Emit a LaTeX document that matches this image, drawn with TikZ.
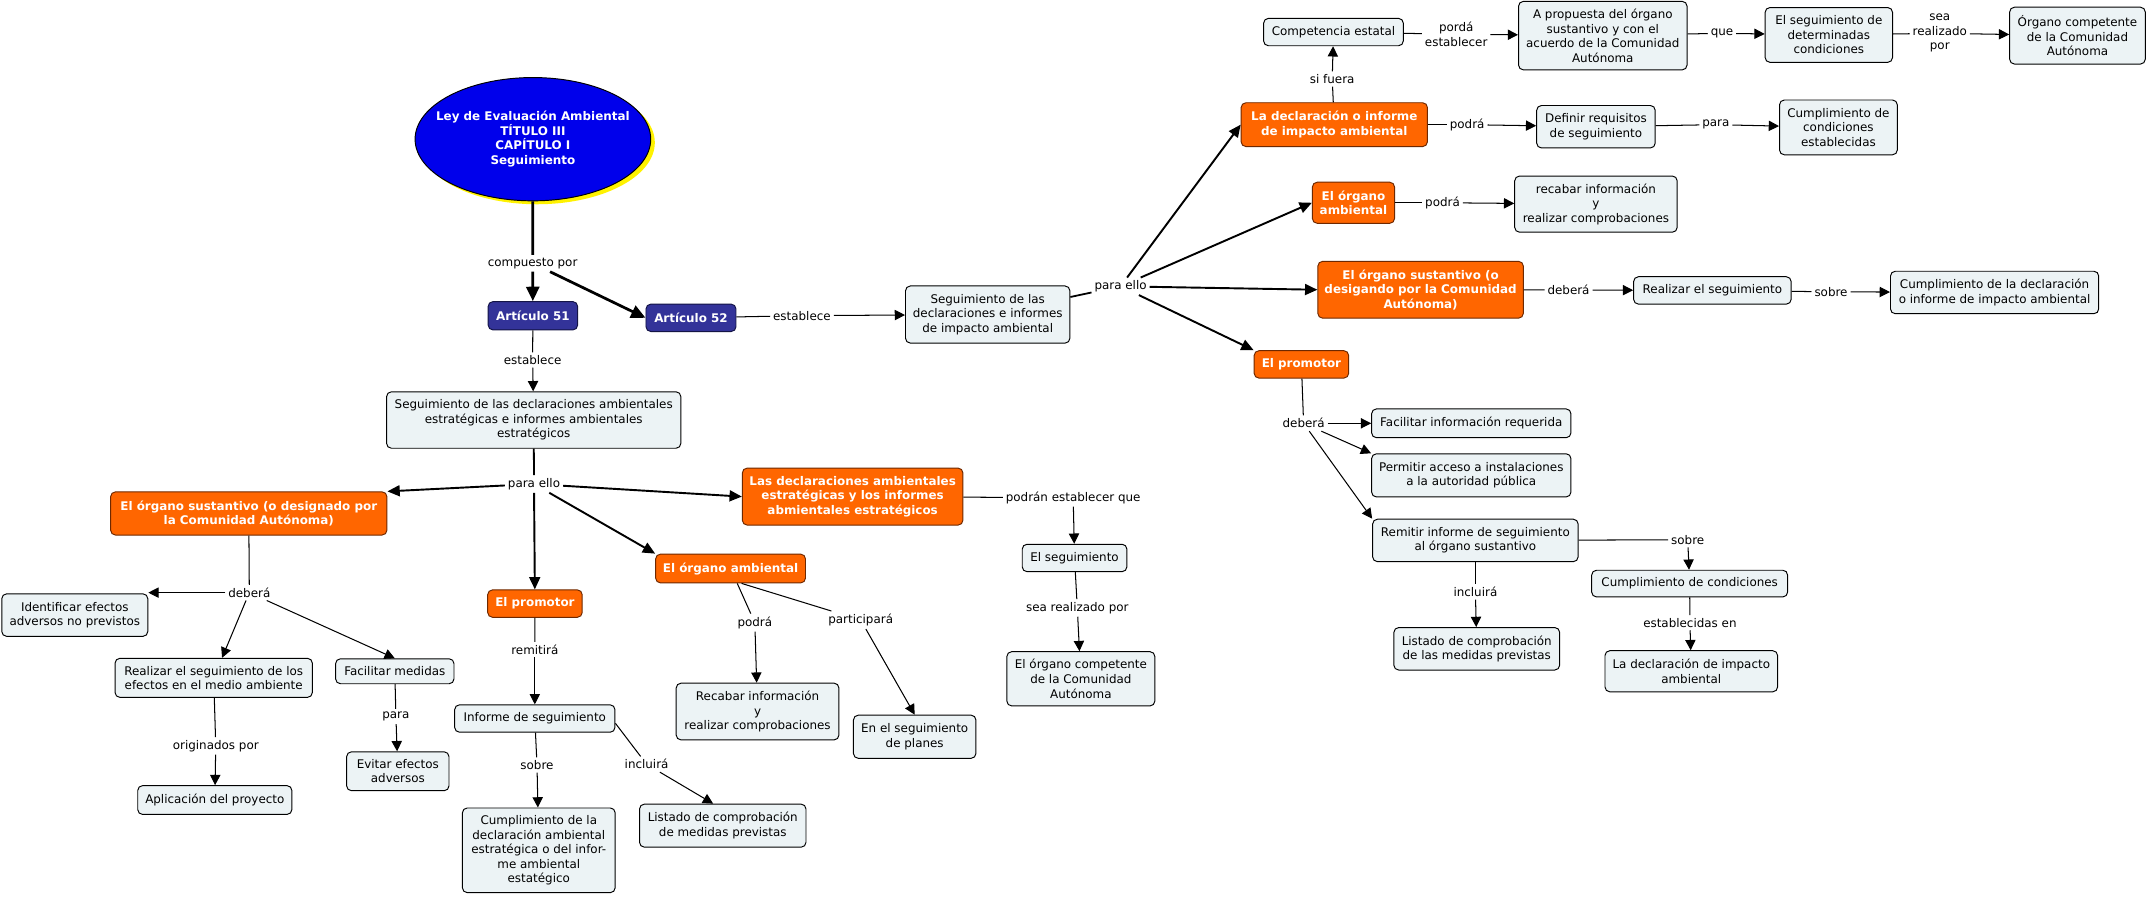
\documentclass[tikz,border=0pt]{standalone}
\usepackage{fontspec}
\setmainfont{DejaVu Sans}
\usetikzlibrary{arrows.meta,shapes.geometric,shadows}
\definecolor{boxfill}{RGB}{236,243,245}
\definecolor{orfill}{RGB}{255,102,0}
\definecolor{ordraw}{RGB}{110,40,0}
\definecolor{navyfill}{RGB}{51,51,153}
\definecolor{navydraw}{RGB}{20,20,70}
\definecolor{ellfill}{RGB}{0,0,235}
\tikzset{
  every node/.style={font=\fontsize{8.7}{10.6}\selectfont},
  sz/.style 2 args={minimum width=#1pt,minimum height=#2pt},
  lbox/.style={draw=black,fill=boxfill,rounded corners=3.5pt,align=center,inner sep=1pt,line width=0.7pt},
  obox/.style={lbox,fill=orfill,draw=ordraw,text=white,font=\fontsize{8.7}{10.6}\selectfont\bfseries},
  nbox/.style={lbox,fill=navyfill,draw=navydraw,text=white,font=\fontsize{8.7}{10.6}\selectfont\bfseries},
  lab/.style={fill=white,inner sep=2pt,align=center},
  tl/.style={line width=0.75pt},
  ta/.style={line width=0.75pt,-{Triangle[length=7.5pt,width=7.5pt]}},
  ml/.style={line width=1.3pt},
  ma/.style={line width=1.4pt,-{Triangle[length=9pt,width=8pt]}},
  hl/.style={line width=2pt},
  ha/.style={line width=2pt,-{Triangle[length=10.5pt,width=9.5pt]}},
}
\begin{document}
\begin{tikzpicture}[x=1pt,y=-1pt]
\useasboundingbox[fill=white] (0,0) rectangle (1568,654.07);
% title
\node[ellipse,draw=black,line width=0.7pt,fill=ellfill,inner sep=0pt,
  minimum width=172pt,minimum height=90pt,
  drop shadow={fill=yellow,opacity=1,shadow xshift=3pt,shadow yshift=-2.5pt}]
  (ell) at (389,101.6) {};
\node[text=white,align=center,inner sep=0pt,font=\fontsize{8.7}{10.6}\selectfont\bfseries]
  (ellt) at (ell.center) {Ley de Evaluación Ambiental\\TÍTULO III\\CAPÍTULO I\\Seguimiento};
\node[lab] (comp) at (388.8,192.2) {compuesto por};
\node[nbox,sz={65.3}{20.7}] (a51) at (389,230.5) {Artículo 51};
\node[nbox,sz={65.7}{20}] (a52) at (504.4,232) {Artículo 52};
% left branch
\node[lab] (est1) at (388.8,262.8) {establece};
\node[lbox,sz={214.8}{41.2}] (seg1) at (389.6,306.6) {Seguimiento de las declaraciones ambientales\\estratégicas e informes ambientales\\estratégicos};
\node[lab] (pe1) at (389.8,353.3) {para ello};
\node[obox,sz={201.7}{31.5}] (sust1) at (181.6,374.8) {El órgano sustantivo (o designado por\\la Comunidad Autónoma)};
\node[obox,sz={161}{41.6}] (decl1) at (622.4,362.5) {Las declaraciones ambientales\\estratégicas y los informes\\abmientales estratégicos};
\node[obox,sz={69}{20}] (prom1) at (390.5,440.6) {El promotor};
\node[obox,sz={109.4}{21}] (oamb1) at (533.3,415) {El órgano ambiental};
\node[lab] (deb1) at (182,432.6) {deberá};
\node[lbox,sz={106.6}{31}] (ident) at (54.6,449) {Identificar efectos\\adversos no previstos};
\node[lbox,sz={144}{28.5}] (realiz1) at (156,494.8) {Realizar el seguimiento de los\\efectos en el medio ambiente};
\node[lbox,sz={86.4}{18.2}] (facil) at (288.2,490) {Facilitar medidas};
\node[lab] (orig1) at (157.5,544.5) {originados por};
\node[lbox,sz={112.5}{21}] (aplic) at (156.8,584) {Aplicación del proyecto};
\node[lab] (para1) at (289,523) {para};
\node[lbox,sz={74.7}{28.4}] (evitar) at (290.4,563) {Evitar efectos\\adversos};
\node[lab] (rem1) at (390.4,474.2) {remitirá};
\node[lbox,sz={117}{20}] (inf1) at (390.4,524.5) {Informe de seguimiento};
\node[lab] (sob1) at (392,558.4) {sobre};
\node[lbox,sz={111.5}{61.8}] (cump1) at (393.3,620.7) {Cumplimiento de la\\declaración ambiental\\estratégica o del infor-\\me ambiental\\estatégico};
\node[lab] (inc1) at (472,557.9) {incluirá};
\node[lbox,sz={121.5}{31.4}] (list1) at (527.6,602.7) {Listado de comprobación\\de medidas previstas};
\node[lab] (pod1) at (551,454.5) {podrá};
\node[lbox,sz={118.8}{41.4}] (recab1) at (553,519.4) {Recabar información\\y\\realizar comprobaciones};
\node[lab] (part1) at (628.3,452.6) {participará};
\node[lbox,sz={89.4}{31.5}] (planes) at (667.7,537.8) {En el seguimiento\\de planes};
\node[lab] (pet1) at (783.4,363.3) {podrán establecer que};
\node[lbox,sz={76.4}{20}] (seg3) at (784.4,407.3) {El seguimiento};
\node[lab] (srp1) at (786.4,443.8) {sea realizado por};
\node[lbox,sz={108}{39.6}] (ocomp1) at (789,495.5) {El órgano competente\\de la Comunidad\\Autónoma};
% right branch
\node[lab] (est2) at (585.4,230.4) {establece};
\node[lbox,sz={120}{41.7}] (seg2) at (721,229.6) {Seguimiento de las\\declaraciones e informes\\de impacto ambiental};
\node[lab] (pe2) at (818,209) {para ello};
\node[obox,sz={136}{32}] (decl2) at (974,91) {La declaración o informe\\de impacto ambiental};
\node[obox,sz={60}{30}] (oamb2) at (988,148) {El órgano\\ambiental};
\node[obox,sz={150}{41.5}] (sust2) at (1037,211.5) {El órgano sustantivo (o\\desigando por la Comunidad\\Autónoma)};
\node[obox,sz={69}{20}] (prom2) at (950,266) {El promotor};
\node[lab] (sif) at (972.5,57.7) {si fuera};
\node[lbox,sz={102}{20}] (comp2) at (973.4,23.4) {Competencia estatal};
\node[lab] (porda) at (1063,25) {pordá\\establecer};
\node[lbox,sz={123}{50}] (aprop) at (1170,26) {A propuesta del órgano\\sustantivo y con el\\acuerdo de la Comunidad\\Autónoma};
\node[lab] (que) at (1257,24.3) {que};
\node[lbox,sz={93}{40}] (seguim) at (1335,25.5) {El seguimiento de\\determinadas\\condiciones};
\node[lab] (sea) at (1416,24.3) {sea\\realizado\\por};
\node[lbox,sz={99}{41.5}] (organo) at (1516.5,26) {Órgano competente\\de la Comunidad\\Autónoma};
\node[lab] (pod2) at (1071,91) {podrá};
\node[lbox,sz={86.5}{31}] (defin) at (1165,92.5) {Definir requisitos\\de seguimiento};
\node[lab] (para2) at (1252.5,91) {para};
\node[lbox,sz={86}{40}] (cumpcond) at (1342,93) {Cumplimiento de\\condiciones\\establecidas};
\node[lab] (pod3) at (1053,148) {podrá};
\node[lbox,sz={118.6}{41}] (recab2) at (1165,149) {recabar información\\y\\realizar comprobaciones};
\node[lab] (deb2) at (1145,211.7) {deberá};
\node[lbox,sz={115}{20}] (realiz2) at (1250,212) {Realizar el seguimiento};
\node[lab] (sob2) at (1336.6,213) {sobre};
\node[lbox,sz={152}{31}] (cumpdecl) at (1456,213.5) {Cumplimiento de la declaración\\o informe de impacto ambiental};
\node[lab] (deb3) at (951.6,309) {deberá};
\node[lbox,sz={145.5}{21}] (facinf) at (1074,309) {Facilitar información requerida};
\node[lbox,sz={145.5}{31.5}] (permit) at (1074,347) {Permitir acceso a instalaciones\\a la autoridad pública};
\node[lbox,sz={150}{31}] (remit) at (1077,394.5) {Remitir informe de seguimiento\\al órgano sustantivo};
\node[lab] (inc2) at (1077,432) {incluirá};
\node[lbox,sz={121}{31}] (list2) at (1078,473.6) {Listado de comprobación\\de las medidas previstas};
\node[lab] (sob3) at (1232,394) {sobre};
\node[lbox,sz={143}{19.5}] (cumpc2) at (1233.4,426) {Cumplimiento de condiciones};
\node[lab] (estab) at (1233.6,454.5) {establecidas en};
\node[lbox,sz={126}{30}] (ldecl) at (1234.6,490) {La declaración de impacto\\ambiental};
% connectors: title
\draw[hl] (ell) -- (comp);
\draw[ha] (comp) -- (a51);
\draw[ha] (comp) -- (a52.west);
% left
\draw[tl] (a51) -- (est1); \draw[ta] (est1) -- (seg1);
\draw[ml] (seg1) -- (pe1);
\draw[ma] (pe1) -- (sust1.north east);
\draw[ma] (pe1) -- (prom1);
\draw[ma] (pe1) -- (oamb1.north west);
\draw[ma] (pe1) -- (decl1.west);
\draw[tl] (sust1) -- (deb1);
\draw[ta] (deb1) -- (deb1 -| ident.east);
\draw[ta] (deb1) -- (realiz1);
\draw[ta] (deb1) -- (facil.north);
\draw[tl] (realiz1) -- (orig1); \draw[ta] (orig1) -- (aplic);
\draw[tl] (facil) -- (para1); \draw[ta] (para1) -- (evitar);
\draw[tl] (prom1) -- (rem1); \draw[ta] (rem1) -- (inf1);
\draw[tl] (inf1) -- (sob1); \draw[ta] (sob1) -- (cump1);
\draw[tl] ([yshift=-3.5pt]inf1.east) -- (inc1); \draw[ta] (inc1) -- ([xshift=-7pt]list1.north);
\draw[tl] (oamb1) -- (pod1); \draw[ta] (pod1) -- (recab1);
\draw[tl] ([xshift=8pt]oamb1.south) -- (part1); \draw[ta] (part1) -- (planes.north);
\draw[tl] (decl1) -- (pet1); \draw[ta] (pet1) -- (seg3);
\draw[tl] (seg3) -- (srp1); \draw[ta] (srp1) -- (ocomp1);
% right
\draw[tl] (a52) -- (est2); \draw[ta] (est2) -- (seg2);
\draw[ml] (seg2) -- (pe2);
\draw[ma] (pe2) -- (decl2.west);
\draw[ma] (pe2) -- (oamb2.west);
\draw[ma] (pe2) -- (sust2.west);
\draw[ma] (pe2) -- (prom2.north west);
\draw[tl] (decl2) -- (sif); \draw[ta] (sif) -- (comp2);
\draw[tl] (comp2) -- (porda); \draw[ta] (porda) -- (aprop);
\draw[tl] (aprop) -- (que); \draw[ta] (que) -- (seguim);
\draw[tl] (seguim) -- (sea); \draw[ta] (sea) -- (organo);
\draw[tl] (decl2) -- (pod2); \draw[ta] (pod2) -- (defin);
\draw[tl] (defin) -- (para2); \draw[ta] (para2) -- (cumpcond);
\draw[tl] (oamb2) -- (pod3); \draw[ta] (pod3) -- (recab2);
\draw[tl] (sust2) -- (deb2); \draw[ta] (deb2) -- (realiz2);
\draw[tl] (realiz2) -- (sob2); \draw[ta] (sob2) -- (cumpdecl);
\draw[tl] (prom2) -- (deb3);
\draw[ta] (deb3) -- (facinf);
\draw[ta] (deb3) -- (permit.north west);
\draw[ta] (deb3) -- (remit.north west);
\draw[tl] (remit) -- (sob3); \draw[ta] (sob3) -- (cumpc2);
\draw[tl] (remit) -- (inc2); \draw[ta] (inc2) -- (list2);
\draw[tl] (cumpc2) -- (estab); \draw[ta] (estab) -- (ldecl);
\end{tikzpicture}
\end{document}
